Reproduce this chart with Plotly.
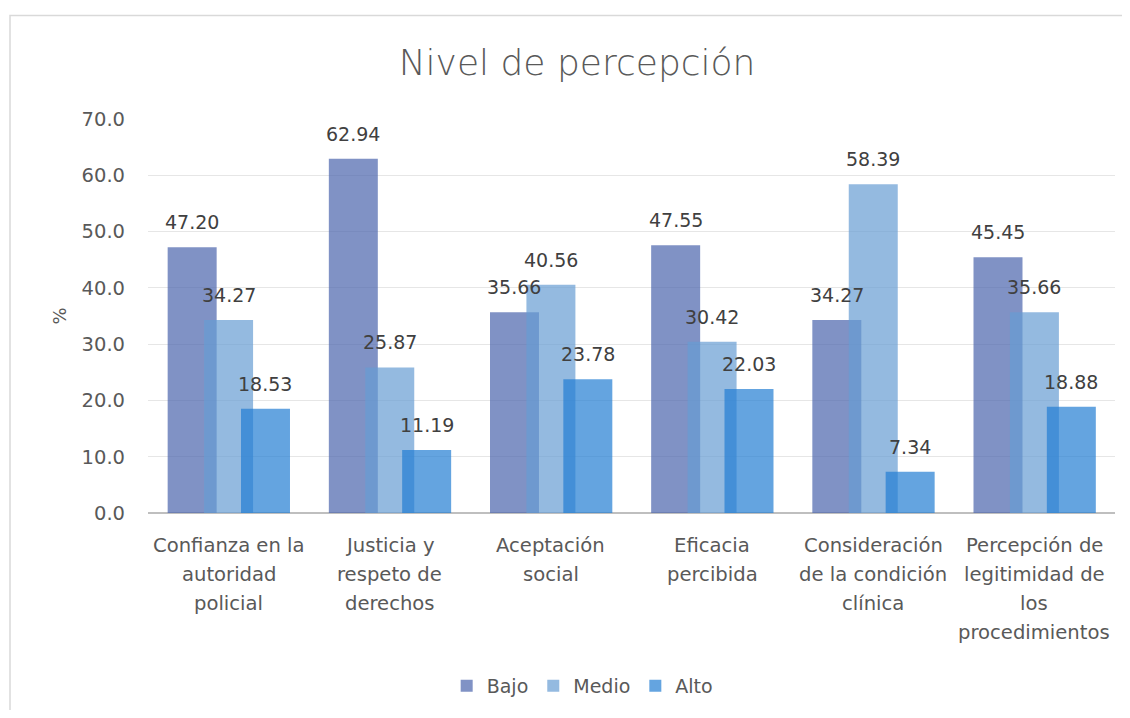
import plotly.graph_objects as go

categories = [
    "Confianza en la\nautoridad\npolicial",
    "Justicia y\nrespeto de\nderechos",
    "Aceptación\nsocial",
    "Eficacia\npercibida",
    "Consideración\nde la condición\nclínica",
    "Percepción de\nlegitimidad de\nlos\nprocedimientos",
]
bajo = [47.20, 62.94, 35.66, 47.55, 34.27, 45.45]
medio = [34.27, 25.87, 40.56, 30.42, 58.39, 35.66]
alto = [18.53, 11.19, 23.78, 22.03, 7.34, 18.88]
series_names = ["Bajo", "Medio", "Alto"]
y_ticks = [0, 10, 20, 30, 40, 50, 60, 70]

colors = ["rgba(74,100,173,0.7)", "rgba(102,156,211,0.7)", "rgba(34,125,211,0.7)"]
offsets = [-0.226, 0.0, 0.229]
bar_w = 0.304

FONT = "DejaVu Sans"
TXT = "#404040"
AX = "#595959"

fig = go.Figure()
idx = list(range(len(categories)))
for name, vals, col, dx in zip(series_names, [bajo, medio, alto], colors, offsets):
    fig.add_trace(go.Bar(
        name=name,
        x=[i + dx for i in idx],
        y=vals,
        width=bar_w,
        marker=dict(color=col, line=dict(width=0)),
        hoverinfo="y",
    ))
    for i, v in zip(idx, vals):
        fig.add_annotation(
            x=i + dx, y=v, xref="x", yref="y", text=f"{v:.2f}",
            showarrow=False, yshift=25, yanchor="middle",
            font=dict(family=FONT, size=19, color=TXT),
        )

for i, cat in zip(idx, categories):
    for j, line in enumerate(cat.split("\n")):
        fig.add_annotation(
            x=i, y=0, xref="x", yref="paper", text=line, showarrow=False,
            yanchor="middle", yshift=-(32 + 29 * j),
            font=dict(family=FONT, size=19.6, color=AX),
        )

# figure is placed 8px in from the page edge by the browser's body margin
fig.add_shape(type="rect", xref="paper", yref="paper",
              x0=-0.1427, x1=1.0165, y0=-0.53, y1=1.263,
              line=dict(color="#d9d9d9", width=1.5), layer="below")

fig.update_layout(
    width=1114, height=702,
    margin=dict(l=140, r=7, t=111, b=196),
    paper_bgcolor="white", plot_bgcolor="white",
    barmode="overlay",
    title=dict(text="Nivel de percepción", x=0.5108, xanchor="center",
               y=1 - 54 / 702, yanchor="middle",
               font=dict(family=FONT, size=36, color=AX, weight=300)),
    xaxis=dict(range=[-0.5, 5.5], showticklabels=False, showgrid=False,
               zeroline=False, showline=False, ticks="", fixedrange=True),
    yaxis=dict(range=[0, 70], tickvals=y_ticks, tickformat=".1f",
               showgrid=True, gridcolor="#e6e6e6", gridwidth=1,
               zeroline=True, zerolinecolor="#bfbfbf", zerolinewidth=2,
               showline=False, ticks="", ticklabelstandoff=22,
               tickfont=dict(family=FONT, size=19.5, color=AX),
               title=dict(text="%", font=dict(family=FONT, size=18, color=AX), standoff=10)),
    legend=dict(orientation="h", x=0.449, xanchor="center", y=-0.435, yanchor="middle",
                font=dict(family=FONT, size=19, color=AX), itemwidth=30,
                traceorder="normal"),
    showlegend=True,
)

fig.write_html("out.html")
